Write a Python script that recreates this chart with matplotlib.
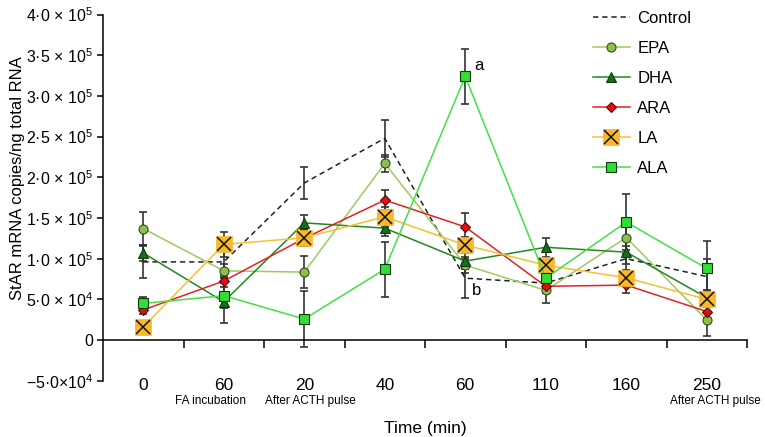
import matplotlib
matplotlib.use("Agg")
import matplotlib.pyplot as plt
from matplotlib.legend_handler import HandlerTuple
import numpy as np

plt.rcParams['font.family'] = ['Liberation Sans', 'DejaVu Sans']
plt.rcParams['mathtext.fontset'] = 'custom'
plt.rcParams['mathtext.rm'] = 'Liberation Sans'
plt.rcParams['mathtext.it'] = 'Liberation Sans:italic'
plt.rcParams['mathtext.bf'] = 'Liberation Sans:bold'

# ---------------- data ----------------
time_labels = ['0', '60', '20', '40', '60', '110', '160', '250']
sub_labels = {1: 'FA incubation', 2: 'After ACTH pulse', 7: 'After ACTH pulse'}

control = [96e3, 96e3, 193e3, 248e3, 76e3, 70e3, 100e3, 78e3]
control_err = [20e3, 20e3, 20e3, 23e3, 24e3, 12e3, 15e3, 22e3]

epa = [137e3, 85e3, 83.5e3, 217e3, 92e3, 61e3, 126e3, 24.6e3]
epa_err = [20e3, 8e3, 20e3, 10e3, 10e3, 15e3, 20e3, 20e3]

dha = [107e3, 47e3, 144e3, 137.5e3, 97e3, 114e3, 108e3, 52e3]
dha_err = [10e3, 26e3, 10e3, 10e3, 10e3, 12e3, 15e3, 10e3]

ara = [37e3, 72.5e3, 125e3, 172e3, 139e3, 66e3, 67.5e3, 35e3]
ara_err = [5e3, 7e3, 10e3, 12e3, 17e3, 8e3, 10e3, 8e3]

la = [16e3, 117.5e3, 125.7e3, 151.5e3, 116.7e3, 92e3, 76.5e3, 50e3]
la_err = [5e3, 15e3, 10e3, 12e3, 10e3, 8e3, 10e3, 10e3]

ala = [45e3, 54.5e3, 25.8e3, 87e3, 324e3, 76e3, 145e3, 88e3]
ala_err = [8e3, 15e3, 34e3, 34e3, 34e3, 15e3, 34e3, 34e3]

ytick_values = [-5e4, 0, 5e4, 1e5, 1.5e5, 2e5, 2.5e5, 3e5, 3.5e5, 4e5]
ytick_labels = ['\u22125\u00b70\u00d7$10^{4}$', '0',
                '5\u00b70 \u00d7 $10^{4}$', '1\u00b70 \u00d7 $10^{5}$',
                '1\u00b75 \u00d7 $10^{5}$', '2\u00b70 \u00d7 $10^{5}$',
                '2\u00b75 \u00d7 $10^{5}$', '3\u00b70 \u00d7 $10^{5}$',
                '3\u00b75 \u00d7 $10^{5}$', '4\u00b70 \u00d7 $10^{5}$']

# ---------------- figure ----------------
fig = plt.figure(figsize=(7.65, 4.37), dpi=100)
ax = fig.add_axes([103/765, 1-380.7/437, (747-103)/765, (380.7-14.6)/437])

x = np.arange(len(time_labels))

err_kw = dict(fmt='none', ecolor='#333333', elinewidth=1.2, capsize=3, capthick=1.2, zorder=2)
for vals, errs in [(control, control_err), (epa, epa_err), (dha, dha_err),
                   (ara, ara_err), (la, la_err), (ala, ala_err)]:
    ax.errorbar(x, vals, yerr=errs, **err_kw)

h_ctrl, = ax.plot(x, control, color='#222222', lw=1.1, ls=(0, (3.5, 2.5)), zorder=3)
h_epa, = ax.plot(x, epa, color='#9ccc5c', lw=1.1, marker='o', ms=6.5,
                 mfc='#8cc04a', mec='#3a4a20', mew=0.8, zorder=4)
h_dha, = ax.plot(x, dha, color='#1f8a1f', lw=1.1, marker='^', ms=6.5,
                 mfc='#1c6a1c', mec='#0e3a0e', mew=0.8, zorder=4)
h_ara, = ax.plot(x, ara, color='#e52222', lw=1.1, marker='D', ms=5,
                 mfc='#e01010', mec='#5a0a0a', mew=0.8, zorder=4)
h_la, = ax.plot(x, la, color='#f6c030', lw=1.1, marker='s', ms=11,
                mfc='#f8b82a', mec='#f8b82a', mew=0.5, zorder=4)
h_lax, = ax.plot(x, la, ls='none', marker='x', ms=10, mec='#111111', mew=1.1, zorder=5)
h_ala, = ax.plot(x, ala, color='#44e044', lw=1.1, marker='s', ms=7,
                 mfc='#33dd33', mec='#0a3a0a', mew=0.8, zorder=4)

ax.annotate('a', xy=(4, ala[4]), xytext=(9.5, 8), textcoords='offset points',
            ha='center', va='center', fontsize=12)
ax.annotate('b', xy=(4, control[4]), xytext=(8, -9), textcoords='offset points',
            ha='center', va='center', fontsize=12)

# axes styling
ax.set_xlim(-0.5, 7.5)
ax.set_ylim(-5e4, 4e5)
for s in ['top', 'right']:
    ax.spines[s].set_visible(False)
ax.spines['bottom'].set_position(('data', 0))
ax.spines['left'].set_linewidth(1.1)
ax.spines['bottom'].set_linewidth(1.1)

ax.set_yticks(ytick_values)
ax.set_yticklabels(ytick_labels, fontsize=11.5)
ax.tick_params(axis='y', direction='out', length=4, width=1.1, pad=3)

ax.set_xticks(x)
ax.set_xticklabels(time_labels, fontsize=12.5)
ax.set_xticks(np.arange(0.5, 7.6, 1.0), minor=True)
ax.tick_params(axis='x', which='major', length=0, pad=27)
ax.tick_params(axis='x', which='minor', direction='out', length=6, width=1.1)

sub_offsets = {1: -0.16, 2: 0.07, 7: 0.11}
for i, txt in sub_labels.items():
    ax.text(i + sub_offsets[i], -0.055, txt, transform=ax.get_xaxis_transform(),
            ha='center', va='center', fontsize=8.5)

ax.text(0.5, -0.13, 'Time (min)', transform=ax.transAxes, ha='center', va='center', fontsize=12.5)
fig.text(18/765, 1-178/437, 'StAR mRNA copies/ng total RNA', rotation=90,
         ha='center', va='center', fontsize=12)

leg = ax.legend([h_ctrl, h_epa, h_dha, h_ara, (h_la, h_lax), h_ala],
                ['Control', 'EPA', 'DHA', 'ARA', 'LA', 'ALA'],
                handler_map={tuple: HandlerTuple(ndivide=1)},
                loc='upper left', bbox_to_anchor=(593/765, 1-11/437),
                bbox_transform=fig.transFigure, frameon=False, fontsize=12,
                borderpad=0, borderaxespad=0, handlelength=2.2, handletextpad=0.45,
                labelspacing=0.9)

fig.savefig('out.png', dpi=100)
